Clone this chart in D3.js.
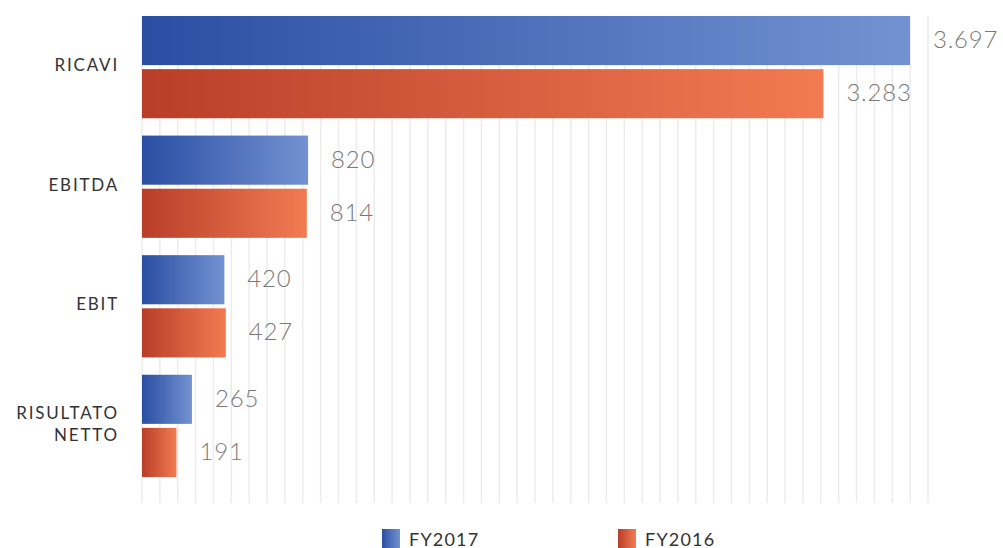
<!DOCTYPE html>
<html>
<head>
<meta charset="utf-8">
<script src="https://cdn.jsdelivr.net/npm/d3@7"></script>
<style>
  html, body { margin: 0; padding: 0; background: #fff; overflow: hidden; }
  svg { display: block; }
</style>
</head>
<body>
<svg id="chart" width="1003" height="548"></svg>
<script>
// ---- data ----
const categories = ["RICAVI", "EBITDA", "EBIT", "RISULTATO NETTO"];
const seriesNames = ["FY2017", "FY2016"];
const fy2017 = [3697, 820, 420, 265];
const fy2016 = [3283, 814, 427, 191];
const valueLabels2017 = ["3.697", "820", "420", "265"];
const valueLabels2016 = ["3.283", "814", "427", "191"];
const gridCount = 45;

const W = 1003, H = 548;
const svg = d3.select("#chart");
const defs = svg.append("defs");

const grads = {
  FY2017: ["#2a4ea2", "#7392d2"],
  FY2016: ["#b93e29", "#f27b52"]
};
Object.entries(grads).forEach(([k, c]) => {
  const g = defs.append("linearGradient").attr("id", "g" + k)
    .attr("x1", "0%").attr("x2", "100%").attr("y1", "0%").attr("y2", "0%");
  g.append("stop").attr("offset", "0%").attr("stop-color", c[0]);
  g.append("stop").attr("offset", "100%").attr("stop-color", c[1]);
});

const left = 142;
const x = d3.scaleLinear().domain([0, 3697]).range([136.5, 910]);
const y = d3.scaleBand().domain(categories).range([16, 477]).paddingInner(0.145).paddingOuter(0);
const ySub = d3.scaleBand().domain(seriesNames).range([0, y.bandwidth()]).paddingInner(0.0755);
const gridX = d3.scaleLinear().domain([0, gridCount - 1]).range([left, 928]);

// grid lines
svg.append("g").selectAll("line").data(d3.range(gridCount)).join("line")
  .attr("x1", d => gridX(d)).attr("x2", d => gridX(d))
  .attr("y1", 16).attr("y2", 503)
  .attr("stroke", "#ececec").attr("stroke-width", 1.5);

const rows = categories.map((c, i) => ({
  cat: c,
  vals: [
    { s: "FY2017", v: fy2017[i], label: valueLabels2017[i] },
    { s: "FY2016", v: fy2016[i], label: valueLabels2016[i] }
  ]
}));

const grp = svg.append("g").selectAll("g").data(rows).join("g")
  .attr("transform", d => `translate(0,${y(d.cat)})`);

grp.selectAll("rect").data(d => d.vals).join("rect")
  .attr("x", left)
  .attr("y", d => ySub(d.s))
  .attr("width", d => x(d.v) - left)
  .attr("height", ySub.bandwidth())
  .attr("fill", d => `url(#g${d.s})`);

grp.selectAll("text.val").data(d => d.vals).join("text")
  .attr("class", "val")
  .attr("x", d => x(d.v) + 23)
  .attr("y", d => ySub(d.s) + ySub.bandwidth() / 2 - 2)
  .attr("dominant-baseline", "central")
  .attr("font-family", "Lato, 'Open Sans', sans-serif")
  .attr("font-weight", 300)
  .attr("font-size", 24)
  .attr("letter-spacing", 0.8)
  .attr("fill", "#7a7a7a")
  .text(d => d.label);

// category labels
grp.each(function(d) {
  const words = d.cat === "RISULTATO NETTO" ? ["RISULTATO", "NETTO"] : [d.cat];
  const g = d3.select(this);
  const cy = y.bandwidth() / 2 - 2.5;
  const lh = 22;
  words.forEach((w, j) => {
    g.append("text")
      .attr("x", 119)
      .attr("y", cy + (j - (words.length - 1) / 2) * lh)
      .attr("text-anchor", "end")
      .attr("dominant-baseline", "central")
      .attr("font-family", "Lato, 'Open Sans', sans-serif")
      .attr("font-size", 17)
      .attr("letter-spacing", 1.8)
      .attr("fill", "#333")
      .text(w);
  });
});

// legend
const legendX = { FY2017: 382, FY2016: 618 };
const lg = svg.append("g").selectAll("g").data(seriesNames).join("g")
  .attr("transform", d => `translate(${legendX[d]},529)`);
lg.append("rect").attr("width", 18).attr("height", 19).attr("fill", d => `url(#g${d})`);
lg.append("text")
  .attr("x", 27).attr("y", 9.5)
  .attr("dominant-baseline", "central")
  .attr("font-family", "Lato, 'Open Sans', sans-serif")
  .attr("font-size", 18)
  .attr("letter-spacing", 1.2)
  .attr("fill", "#333")
  .text(d => d);
</script>
</body>
</html>
